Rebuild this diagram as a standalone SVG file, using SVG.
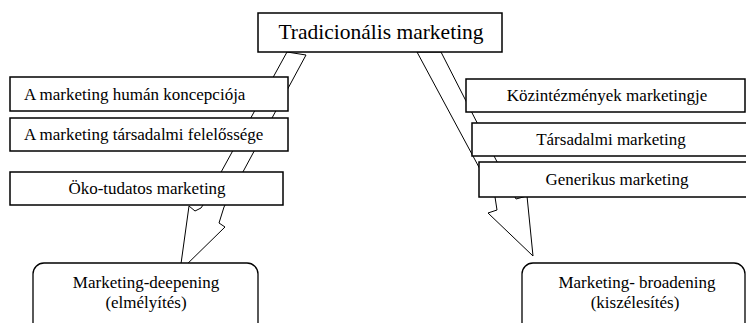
<svg xmlns="http://www.w3.org/2000/svg" width="746" height="323" viewBox="0 0 746 323">
<style>
.box{fill:#fff;stroke:#000;stroke-width:1.5}
.rbox{fill:#fff;stroke:#000;stroke-width:1.3}
.arrow{fill:#fff;stroke:#000;stroke-width:1;stroke-linejoin:miter}
text{font-family:"Liberation Serif","DejaVu Serif",serif;fill:#000;font-size:17px}
.c{text-anchor:middle}
.title{font-size:21.5px}
</style>
<rect width="746" height="323" fill="#fff"/>
<g id="connectors">
<polygon class="arrow" points="287,52 306,55 224,207 219,223 225,227 180,271 189,206 195,211 201,208 203,205"/>
<polygon class="arrow" points="417,52 441,52 516,199 527,196 533,256 488,213 497,210 495,197"/>
</g>
<g id="tradicionalis">
<rect class="box" x="258" y="13" width="244" height="39"/>
<text class="c title" x="381" y="39">Tradicionális marketing</text>
</g>
<g id="human">
<rect class="box" x="10" y="77" width="278" height="34"/>
<text x="24" y="100">A marketing humán koncepciója</text>
</g>
<g id="tarsadalmi-felelosseg">
<rect class="box" x="10" y="118" width="278" height="33"/>
<text x="24" y="140">A marketing társadalmi felelőssége</text>
</g>
<g id="oko">
<rect class="box" x="10" y="172" width="273" height="33"/>
<text class="c" x="147" y="194">Öko-tudatos marketing</text>
</g>
<g id="kozintezmenyek">
<rect class="box" x="466" y="79" width="279" height="33"/>
<text class="c" x="607" y="101">Közintézmények marketingje</text>
</g>
<g id="tarsadalmi">
<rect class="box" x="472" y="123" width="280" height="33"/>
<text class="c" x="611" y="145">Társadalmi marketing</text>
</g>
<g id="generikus">
<rect class="box" x="479" y="162" width="280" height="35"/>
<text class="c" x="617" y="185">Generikus marketing</text>
</g>
<g id="deepening">
<rect class="rbox" x="33" y="263" width="225" height="75" rx="11" ry="11"/>
<text class="c" x="146" y="288">Marketing-deepening</text>
<text class="c" x="146" y="308">(elmélyítés)</text>
</g>
<g id="broadening">
<rect class="rbox" x="522" y="263" width="223" height="75" rx="11" ry="11"/>
<text class="c" x="637" y="288">Marketing- broadening</text>
<text class="c" x="635" y="308">(kiszélesítés)</text>
</g>
</svg>
